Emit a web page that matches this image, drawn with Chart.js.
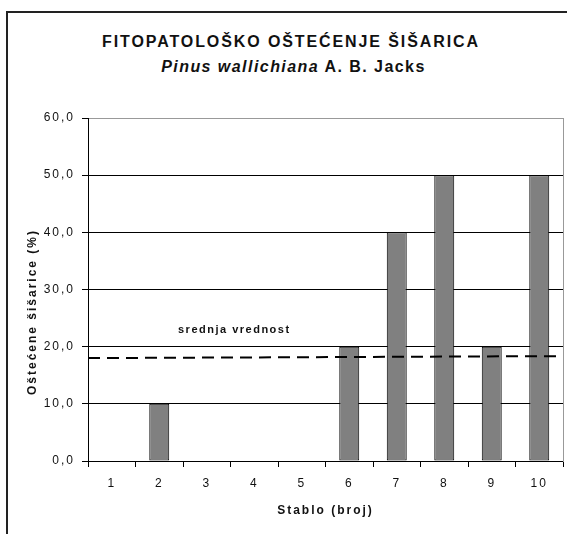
<!DOCTYPE html>
<html>
<head>
<meta charset="utf-8">
<title>Fitopatološko oštećenje šišarica</title>
<script src="https://cdn.jsdelivr.net/npm/chart.js@4.4.1/dist/chart.umd.min.js"></script>
<style>
  html, body { margin: 0; padding: 0; background: #fff; }
  #wrap { position: relative; width: 567px; height: 534px; overflow: hidden; font-family: "Liberation Sans", Arial, sans-serif; }
  #frame { position: absolute; left: 6px; top: 11px; width: 620px; height: 620px; border-left: 2px solid #222; border-top: 2px solid #222; }
  .naslov { position: absolute; left: 0; text-align: center; font-weight: bold; font-size: 16px; line-height: 16px; color: #111; white-space: nowrap; }
  #t1 { top: 33.5px; width: 582px; letter-spacing: 1.9px; }
  #t2 { top: 58.5px; width: 587px; letter-spacing: 1.45px; }
  canvas { position: absolute; left: 0; top: 0; }
</style>
</head>
<body>
<div id="wrap">
  <div id="frame"></div>
  <div class="naslov" id="t1">FITOPATOLOŠKO OŠTEĆENJE ŠIŠARICA</div>
  <div class="naslov" id="t2"><i>Pinus wallichiana</i> A. B. Jacks</div>
  <canvas id="grafik" width="567" height="534"></canvas>
</div>
<script>
// ---------------------------------------------------------------
// PODACI
// ---------------------------------------------------------------
const stabla = ['1', '2', '3', '4', '5', '6', '7', '8', '9', '10'];
const ostecenje = [0, 10, 0, 0, 0, 20, 40, 50, 20, 50];
const yTicks = [0, 10, 20, 30, 40, 50, 60];

// srednja vrednost (isprekidana linija preko cele sirine)
const srednjaX = [0, 10];
const srednjaY = [18.0, 18.35];

// polozaj natpisa "srednja vrednost" (u jedinicama osa)
const natpisX = 3.08;
const natpisY = 22.4;

const FONT = '"Liberation Sans", Arial, sans-serif';

// ---------------------------------------------------------------
// PLUGIN ZA TEKST
// ---------------------------------------------------------------
const tekstPlugin = {
    id: 'tekst',
    beforeDraw(chart) {
        chart.ctx.letterSpacing = '2px';
    },
    afterDraw(chart) {
        const ctx = chart.ctx;
        const { xLine, y } = chart.scales;
        ctx.save();
        ctx.fillStyle = '#111';
        ctx.letterSpacing = '1.5px';
        ctx.font = 'bold 11px ' + FONT;
        ctx.textAlign = 'center';
        ctx.textBaseline = 'alphabetic';
        ctx.fillText('srednja vrednost', xLine.getPixelForValue(natpisX), y.getPixelForValue(natpisY));

        // naslov y ose
        ctx.letterSpacing = '2px';
        ctx.font = 'bold 12px ' + FONT;
        ctx.textBaseline = 'middle';
        ctx.translate(33, 312);
        ctx.rotate(-Math.PI / 2);
        ctx.fillText('Oštećene šišarice (%)', 0, 0);
        ctx.restore();
    }
};

// ---------------------------------------------------------------
// GRAFIKON
// ---------------------------------------------------------------
const grafik = new Chart(document.getElementById('grafik').getContext('2d'), {
    type: 'bar',
    data: {
        labels: stabla,
        datasets: [
            {
                type: 'line',
                label: 'srednja vrednost',
                data: srednjaX.map((x, i) => ({ x: x, y: srednjaY[i] })),
                xAxisID: 'xLine',
                yAxisID: 'y',
                borderColor: '#000',
                borderWidth: 2,
                borderDash: [12, 7],
                pointRadius: 0,
                fill: false,
                order: 0
            },
            {
                label: 'Oštećene šišarice',
                data: ostecenje,
                xAxisID: 'x',
                yAxisID: 'y',
                backgroundColor: '#808080',
                borderColor: '#000',
                borderWidth: 1,
                borderSkipped: false,
                grouped: false,
                barPercentage: 0.42,
                categoryPercentage: 1,
                order: 1
            }
        ]
    },
    options: {
        responsive: false,
        animation: false,
        layout: { padding: { top: 118, left: 0, right: 0, bottom: 0 } },
        plugins: {
            legend: { display: false },
            tooltip: { enabled: false }
        },
        scales: {
            x: {
                type: 'category',
                offset: true,
                grid: { offset: true, drawOnChartArea: false, color: '#000', tickLength: 6 },
                border: { color: '#000', width: 1 },
                ticks: { color: '#111', font: { size: 12, family: FONT }, padding: 9, maxRotation: 0, autoSkip: false },
                title: {
                    display: true,
                    text: 'Stablo (broj)',
                    color: '#111',
                    font: { size: 12, weight: 'bold', family: FONT },
                    padding: { top: 0, bottom: 16 }
                },
                afterFit(s) { s.height = 73; }
            },
            xLine: {
                type: 'linear',
                min: 0,
                max: 10,
                offset: false,
                grid: { offset: false },
                display: false
            },
            y: {
                min: 0,
                max: 60,
                afterBuildTicks(s) { s.ticks = yTicks.map(v => ({ value: v })); },
                ticks: {
                    color: '#111',
                    padding: 7,
                    font: { size: 12, family: FONT },
                    callback: v => v.toFixed(1).replace('.', ',')
                },
                grid: {
                    color: c => (c.tick && c.tick.value === 60 ? '#999' : '#000'),
                    tickColor: '#000',
                    tickLength: 6
                },
                border: { color: '#000', width: 1 },
                afterFit(s) { s.width = 88; }
            },
            y2: {
                position: 'right',
                ticks: { display: false },
                grid: { display: false },
                border: { color: '#999', width: 1 },
                afterFit(s) { s.width = 4; }
            }
        }
    },
    plugins: [tekstPlugin]
});
</script>
</body>
</html>
